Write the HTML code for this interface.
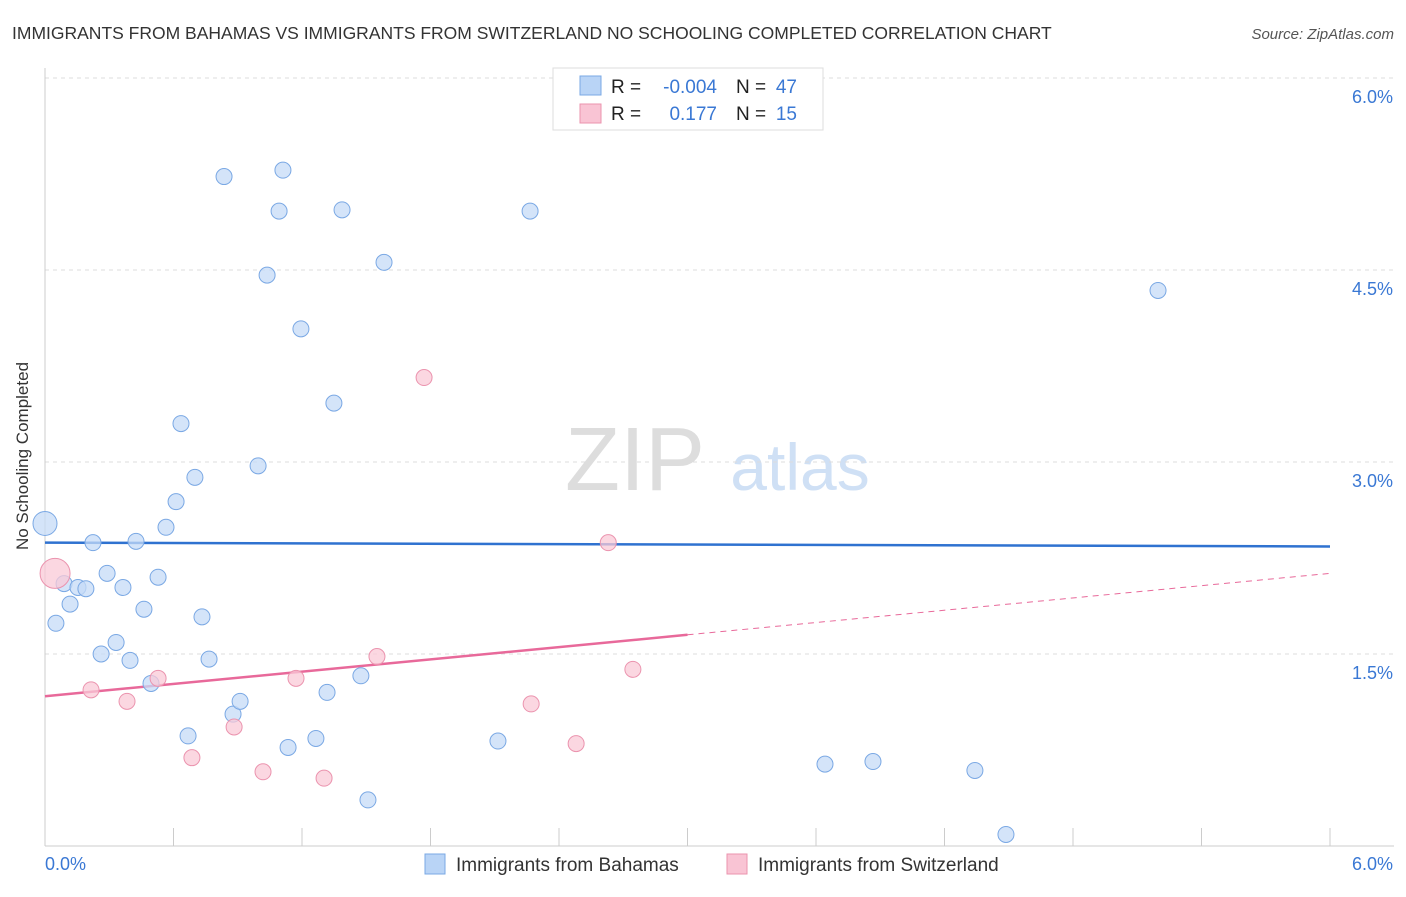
<!DOCTYPE html>
<html><head><meta charset="utf-8">
<style>
body{margin:0;background:#fff;font-family:"Liberation Sans",sans-serif;}
svg text{font-family:"Liberation Sans",sans-serif;}
</style></head>
<body>
<svg id="chart" width="1406" height="892" viewBox="0 0 1406 892">
<text x="12" y="39" font-size="17.5" fill="#333">IMMIGRANTS FROM BAHAMAS VS IMMIGRANTS FROM SWITZERLAND NO SCHOOLING COMPLETED CORRELATION CHART</text>
<text x="1394" y="39" font-size="15" fill="#555" font-style="italic" text-anchor="end">Source: ZipAtlas.com</text>
<text x="28" y="456" font-size="17" fill="#333" text-anchor="middle" transform="rotate(-90 28 456)">No Schooling Completed</text>
<g>
<text x="635" y="490" font-size="90" fill="#ddd" font-family="Liberation Serif" text-anchor="middle">ZIP</text>
<text x="800" y="490" font-size="66" fill="#cfe0f5" text-anchor="middle">atlas</text>
</g>
<g id="grid"></g>
<g id="axes"></g>
<g id="lines"></g>
<g id="points"></g>
<g>
<rect x="553" y="68" width="270" height="62" fill="#fff" stroke="#ddd"/>
<rect x="580" y="76" width="21" height="19" fill="#b9d4f6" stroke="#7aa8e4"/>
<rect x="580" y="104" width="21" height="19" fill="#f9c4d4" stroke="#eb93ae"/>
<text x="611" y="93" font-size="19" fill="#222">R = </text><text x="717" y="93" font-size="19" fill="#3a78d4" text-anchor="end">-0.004</text>
<text x="736" y="93" font-size="19" fill="#222">N = </text><text x="797" y="93" font-size="19" fill="#3a78d4" text-anchor="end">47</text>
<text x="611" y="120" font-size="19" fill="#222">R = </text><text x="717" y="120" font-size="19" fill="#3a78d4" text-anchor="end">0.177</text>
<text x="736" y="120" font-size="19" fill="#222">N = </text><text x="797" y="120" font-size="19" fill="#3a78d4" text-anchor="end">15</text>
</g>
<g>
<rect x="425" y="854" width="20" height="20" fill="#b9d4f6" stroke="#7aa8e4"/>
<text x="456" y="871" font-size="19" fill="#333">Immigrants from Bahamas</text>
<rect x="727" y="854" width="20" height="20" fill="#f9c4d4" stroke="#eb93ae"/>
<text x="758" y="871" font-size="19" fill="#333">Immigrants from Switzerland</text>
</g>
</svg>
<script>
const bahamasX=[0,0.051,0.089,0.117,0.154,0.191,0.224,0.262,0.29,0.332,0.364,0.397,0.425,0.462,0.495,0.528,0.565,0.612,0.635,0.668,0.7,0.733,0.766,0.836,0.878,0.911,0.995,1.037,1.093,1.111,1.135,1.195,1.265,1.317,1.349,1.387,1.475,1.508,1.583,2.115,2.265,3.119,3.642,3.866,4.342,4.487,5.197];
const bahamasY=[2.52,1.74,2.05,1.89,2.02,2.01,2.37,1.5,2.13,1.59,2.02,1.45,2.38,1.85,1.27,2.1,2.49,2.69,3.3,0.86,2.88,1.79,1.46,5.23,1.03,1.13,2.97,4.46,4.96,5.28,0.77,4.04,0.84,1.2,3.46,4.97,1.33,0.36,4.56,0.82,4.96,5.71,0.64,0.66,0.59,0.09,4.34];
const swissX=[0.047,0.215,0.383,0.528,0.686,0.883,1.018,1.172,1.303,1.55,1.77,2.27,2.48,2.63,2.745];
const swissY=[2.13,1.22,1.13,1.31,0.69,0.93,0.58,1.31,0.53,1.48,3.66,1.11,0.8,2.37,1.38];
const bahamasTrend=[2.37,2.34];
const swissTrend=[1.17,1.65,2.13];
const swissSolidEnd=3.0;
const yTicks=[1.5,3.0,4.5,6.0];
const xTickCount=10;
const NS="http://www.w3.org/2000/svg";
const sx=v=>45+v/6*1285;
const sy=v=>846-v*128;
function mk(tag,attrs,parent){const e=document.createElementNS(NS,tag);for(const k in attrs)e.setAttribute(k,attrs[k]);parent.appendChild(e);return e;}
const grid=document.getElementById('grid'),axes=document.getElementById('axes'),lines=document.getElementById('lines'),pts=document.getElementById('points');
yTicks.forEach(t=>{
 const l=mk('line',{x1:45,x2:1394,y1:sy(t),y2:sy(t),stroke:'#ddd','stroke-dasharray':'4,4'},grid);
 
 
 const tx=mk('text',{x:1393,y:sy(t)+25,'font-size':18,fill:'#3a78d4','text-anchor':'end'},axes);
 tx.textContent=t.toFixed(1)+'%';
 
 
});
mk('line',{x1:45,x2:45,y1:68,y2:846,stroke:'#ccc'},axes);
mk('line',{x1:45,x2:1394,y1:846,y2:846,stroke:'#ccc'},axes);
for(let i=0;i<=xTickCount;i++){const t=mk('line',{x1:sx(i*0.6),x2:sx(i*0.6),y1:828,y2:846,stroke:'#ccc'},axes);
 
 }
const xl0=mk('text',{x:45,y:870,'font-size':18,fill:'#3a78d4'},axes);xl0.textContent='0.0%';


const xl1=mk('text',{x:1393,y:870,'font-size':18,fill:'#3a78d4','text-anchor':'end'},axes);xl1.textContent='6.0%';


function dot(x,y,r,fill,stroke,name){const c=mk('circle',{cx:sx(x),cy:sy(y),r:r,fill:fill,stroke:stroke,'stroke-width':1,'fill-opacity':0.75},pts);
 
 }
bahamasX.forEach((x,i)=>dot(x,bahamasY[i],i===0?12:8,'#c5dbf7','#7aa8e4','point-bahamas'));
swissX.forEach((x,i)=>dot(x,swissY[i],i===0?15:8,'#f9c9d7','#eb93ae','point-switzerland'));
const bl=mk('line',{x1:sx(0),y1:sy(bahamasTrend[0]),x2:sx(6),y2:sy(bahamasTrend[1]),stroke:'#2f72d0','stroke-width':2.5},lines);


const ps=mk('line',{x1:sx(0),y1:sy(swissTrend[0]),x2:sx(swissSolidEnd),y2:sy(swissTrend[1]),stroke:'#e8699a','stroke-width':2.5},lines);


const pd=mk('line',{x1:sx(swissSolidEnd),y1:sy(swissTrend[1]),x2:sx(6),y2:sy(swissTrend[2]),stroke:'#e8699a','stroke-width':1,'stroke-dasharray':'6,5'},lines);


</script>
</body></html>
